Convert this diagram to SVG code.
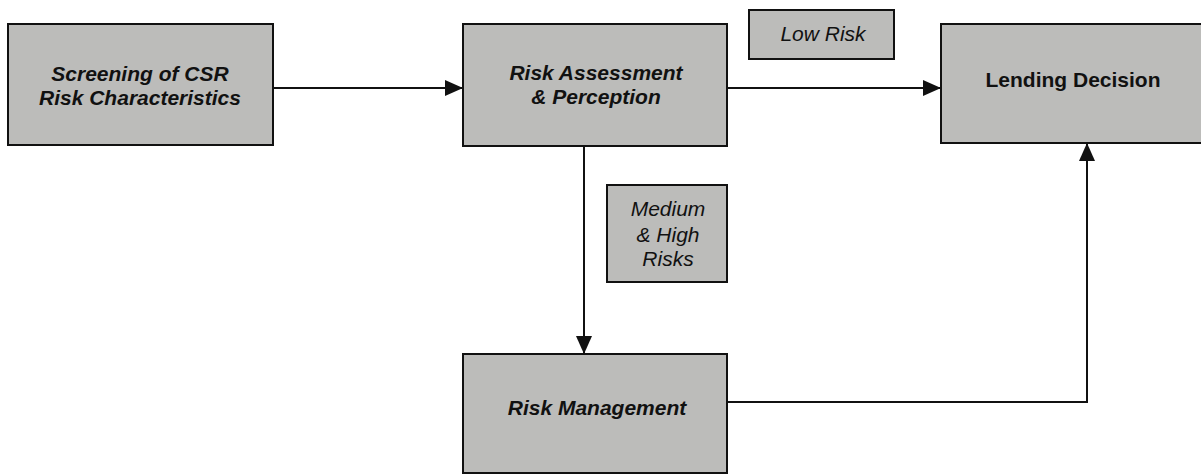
<svg xmlns="http://www.w3.org/2000/svg" width="1201" height="475" viewBox="0 0 1201 475">
  <style>
    .box { fill: #bcbcba; stroke: #111; stroke-width: 2; }
    .lbl { fill: #111; font-family: "Liberation Sans", Arial, sans-serif; font-size: 21px; text-anchor: middle; }
    .bi { font-weight: bold; font-style: italic; }
    .b { font-weight: bold; }
    .i { font-style: italic; }
    .wire { fill: none; stroke: #111; stroke-width: 2; }
  </style>
  <defs>
    <marker id="head" viewBox="0 0 18 16" refX="18" refY="8" markerWidth="18" markerHeight="16" markerUnits="userSpaceOnUse" orient="auto">
      <path d="M0,0 L18,8 L0,16 Z" fill="#111"/>
    </marker>
  </defs>
  <rect width="1201" height="475" fill="#ffffff"/>

  <g id="connectors">
    <path class="wire" d="M273,88 L463,88" marker-end="url(#head)"/>
    <path class="wire" d="M727,88 L941,88" marker-end="url(#head)"/>
    <path class="wire" d="M584,146 L584,354" marker-end="url(#head)"/>
    <path class="wire" d="M727,402 L1087,402 L1087,143" marker-end="url(#head)"/>
  </g>

  <g id="screening">
    <rect class="box" x="8" y="24" width="265" height="121"/>
    <text class="lbl bi" x="140" y="81">Screening of CSR</text>
    <text class="lbl bi" x="140" y="105">Risk Characteristics</text>
  </g>

  <g id="assessment">
    <rect class="box" x="463" y="24" width="264" height="122"/>
    <text class="lbl bi" x="596" y="80">Risk Assessment</text>
    <text class="lbl bi" x="596" y="104">&amp; Perception</text>
  </g>

  <g id="low-risk">
    <rect class="box" x="749" y="10" width="145" height="49"/>
    <text class="lbl i" x="823" y="41">Low Risk</text>
  </g>

  <g id="lending">
    <rect class="box" x="941" y="24" width="262" height="119"/>
    <text class="lbl b" x="1073" y="87">Lending Decision</text>
  </g>

  <g id="medium-high">
    <rect class="box" x="607" y="185" width="120" height="97"/>
    <text class="lbl i" x="668" y="216">Medium</text>
    <text class="lbl i" x="668" y="242">&amp; High</text>
    <text class="lbl i" x="668" y="266">Risks</text>
  </g>

  <g id="management">
    <rect class="box" x="463" y="354" width="264" height="119"/>
    <text class="lbl bi" x="597" y="415">Risk Management</text>
  </g>
</svg>
